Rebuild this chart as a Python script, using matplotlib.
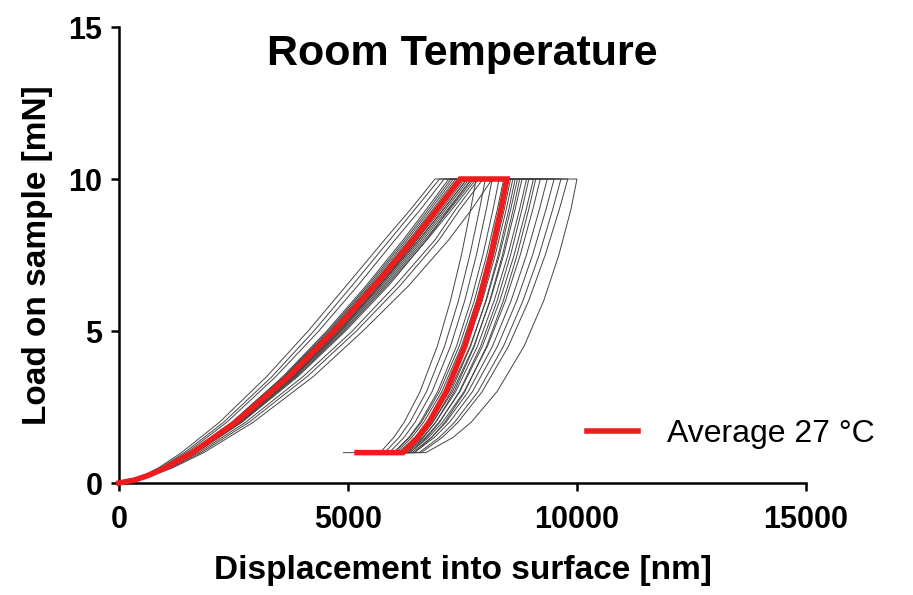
import numpy as np
import matplotlib
matplotlib.use('Agg')
import matplotlib.pyplot as plt

plt.rcParams['font.family'] = ['Liberation Sans', 'DejaVu Sans']

# load steps [mN] shared by every indent
load_up = [0, 0.1, 0.25, 0.5, 1, 2, 3.5, 5, 6.5, 8, 9, 10]
load_down = [10, 9, 7.5, 6, 4.5, 3, 2, 1.5, 1]
drift_load = 1.0

# displacement [nm] at each load step, one row per indent (loading part)
loading_disp = [
    [0, 294, 543, 863, 1365, 2195, 3223, 4130, 4968, 5799, 6367, 6900],
    [0, 308, 569, 904, 1430, 2286, 3340, 4256, 5093, 5913, 6459, 7000],
    [0, 320, 589, 937, 1481, 2355, 3423, 4362, 5218, 6028, 6584, 7100],
    [0, 334, 616, 979, 1548, 2462, 3578, 4536, 5400, 6206, 6710, 7200],
    [0, 339, 625, 993, 1570, 2497, 3628, 4599, 5475, 6293, 6804, 7300],
    [0, 341, 629, 1000, 1580, 2514, 3653, 4631, 5513, 6336, 6850, 7350],
    [0, 343, 633, 1006, 1591, 2531, 3678, 4662, 5550, 6379, 6897, 7400],
    [0, 348, 642, 1020, 1613, 2565, 3728, 4725, 5625, 6465, 6990, 7500],
    [0, 350, 646, 1027, 1623, 2582, 3752, 4757, 5663, 6508, 7037, 7550],
    [0, 353, 650, 1034, 1634, 2599, 3777, 4788, 5700, 6551, 7083, 7600],
    [0, 355, 654, 1040, 1645, 2616, 3802, 4820, 5738, 6594, 7130, 7650],
    [0, 357, 659, 1047, 1656, 2633, 3827, 4851, 5775, 6637, 7176, 7700],
    [0, 359, 663, 1054, 1666, 2651, 3852, 4883, 5813, 6681, 7223, 7750],
    [0, 375, 692, 1100, 1739, 2766, 4018, 5095, 6035, 6902, 7353, 7850],
    [0, 387, 714, 1135, 1794, 2841, 4109, 5184, 6142, 6990, 7446, 7950],
    [0, 400, 737, 1172, 1852, 2932, 4241, 5326, 6330, 7200, 7700, 8150],
    [0, 336, 620, 986, 1559, 2480, 3603, 4568, 5438, 6250, 6757, 7250],
    [0, 356, 656, 1043, 1650, 2624, 3814, 4835, 5700, 6500, 6980, 7450],
    [0, 338, 622, 990, 1564, 2488, 3616, 4630, 5513, 6400, 6955, 7500],
    [0, 353, 650, 1034, 1634, 2599, 3777, 4788, 5700, 6551, 7083, 7600],
    [0, 364, 671, 1068, 1689, 2686, 3904, 4948, 5890, 6720, 7200, 7700],
    [0, 362, 667, 1061, 1677, 2668, 3877, 4914, 5850, 6724, 7270, 7800],
]

# unloading part, starts after the hold at max load
unloading_disp = [
    [7800, 7678, 7477, 7239, 6950, 6572, 6227, 6000, 5700],
    [8000, 7872, 7661, 7413, 7109, 6713, 6352, 6115, 5800],
    [8150, 8020, 7804, 7549, 7239, 6834, 6465, 6222, 5900],
    [8300, 8167, 7946, 7686, 7369, 6955, 6577, 6329, 6000],
    [8450, 8311, 8080, 7809, 7478, 7046, 6652, 6393, 6050],
    [8600, 8455, 8215, 7933, 7588, 7138, 6728, 6458, 6100],
    [8700, 8552, 8307, 8019, 7667, 7208, 6790, 6515, 6150],
    [8800, 8649, 8400, 8106, 7747, 7279, 6853, 6572, 6200],
    [8900, 8746, 8492, 8192, 7827, 7350, 6915, 6629, 6250],
    [9050, 8891, 8627, 8316, 7936, 7441, 6990, 6693, 6300],
    [9200, 9035, 8761, 8439, 8046, 7533, 7065, 6758, 6350],
    [9350, 9179, 8896, 8562, 8155, 7624, 7140, 6822, 6400],
    [9500, 9323, 9030, 8686, 8265, 7716, 7216, 6886, 6450],
    [9650, 9470, 9173, 8822, 8395, 7837, 7328, 6993, 6550],
    [9800, 9614, 9307, 8946, 8504, 7928, 7403, 7058, 6600],
    [10000, 9868, 9604, 9274, 8845, 8251, 7690, 7294, 6700],
    [8400, 8261, 8030, 7759, 7428, 6996, 6602, 6343, 6000],
    [8550, 8411, 8180, 7909, 7578, 7146, 6752, 6493, 6150],
    [8650, 8511, 8280, 8009, 7678, 7246, 6852, 6593, 6250],
    [8750, 8608, 8373, 8096, 7758, 7317, 6915, 6650, 6300],
    [8950, 8799, 8550, 8256, 7897, 7429, 7003, 6722, 6350],
    [9100, 8946, 8692, 8392, 8027, 7550, 7115, 6829, 6450],
]

# end of the thermal drift hold at 10 % load
drift_end = [4900, 5300, 5500, 5400, 5600, 5700, 5500, 5800,
             5700, 5900, 5800, 6000, 5900, 6100, 6200, 6300,
             5600, 5700, 5800, 5900, 6000, 6000]

avg_loading = [0, 345, 637, 1013, 1602, 2548, 3703, 4694, 5588, 6422, 6943, 7450]
avg_unloading = [8470, 8338, 8120, 7864, 7551, 7142, 6770, 6525, 6200]
avg_drift_end = 5200
avg_label = 'Average 27 °C'


def curve_xy(up, down, end):
    x = list(up) + list(down) + [end]
    y = list(load_up) + list(load_down) + [drift_load]
    return np.array(x), np.array(y)


fig = plt.figure(figsize=(9.13, 5.95), dpi=100)
ax = fig.add_axes([0.1303, 0.1882, 0.7525, 0.7664])

for up, down, end in zip(loading_disp, unloading_disp, drift_end):
    x, y = curve_xy(up, down, end)
    ax.plot(x, y, color='#444444', lw=0.7, clip_on=False, zorder=2)

x, y = curve_xy(avg_loading, avg_unloading, avg_drift_end)
ax.plot(x, y, color='#ee1c1c', lw=4, solid_joinstyle='miter',
        clip_on=False, zorder=3, label=avg_label)

ax.set_xlim(0, 15000)
ax.set_ylim(0, 15)
ax.set_xticks([0, 5000, 10000, 15000])
ax.set_yticks([0, 5, 10, 15])

for side in ['top', 'right']:
    ax.spines[side].set_visible(False)
for side in ['left', 'bottom']:
    ax.spines[side].set_linewidth(1.8)

ax.tick_params(axis='both', direction='out', length=6, width=1.8,
               labelsize=22, pad=6)
ax.tick_params(axis='x', pad=10)
for lbl in ax.get_xticklabels() + ax.get_yticklabels():
    lbl.set_fontweight('bold')

ax.set_xlabel('Displacement into surface [nm]', fontsize=24, fontweight='bold', labelpad=14)
ax.set_ylabel('Load on sample [mN]', fontsize=24, fontweight='bold', labelpad=11)

ax.text(7500, 14.1, 'Room Temperature', fontsize=31, fontweight='bold',
        ha='center', va='center')

ax.legend(loc='center left', bbox_to_anchor=(587 / 913, 1 - 434 / 595),
          bbox_transform=fig.transFigure, frameon=False, fontsize=23,
          handlelength=1.6, handletextpad=0.9, borderpad=0, borderaxespad=0)

fig.savefig('out.png', dpi=100)
